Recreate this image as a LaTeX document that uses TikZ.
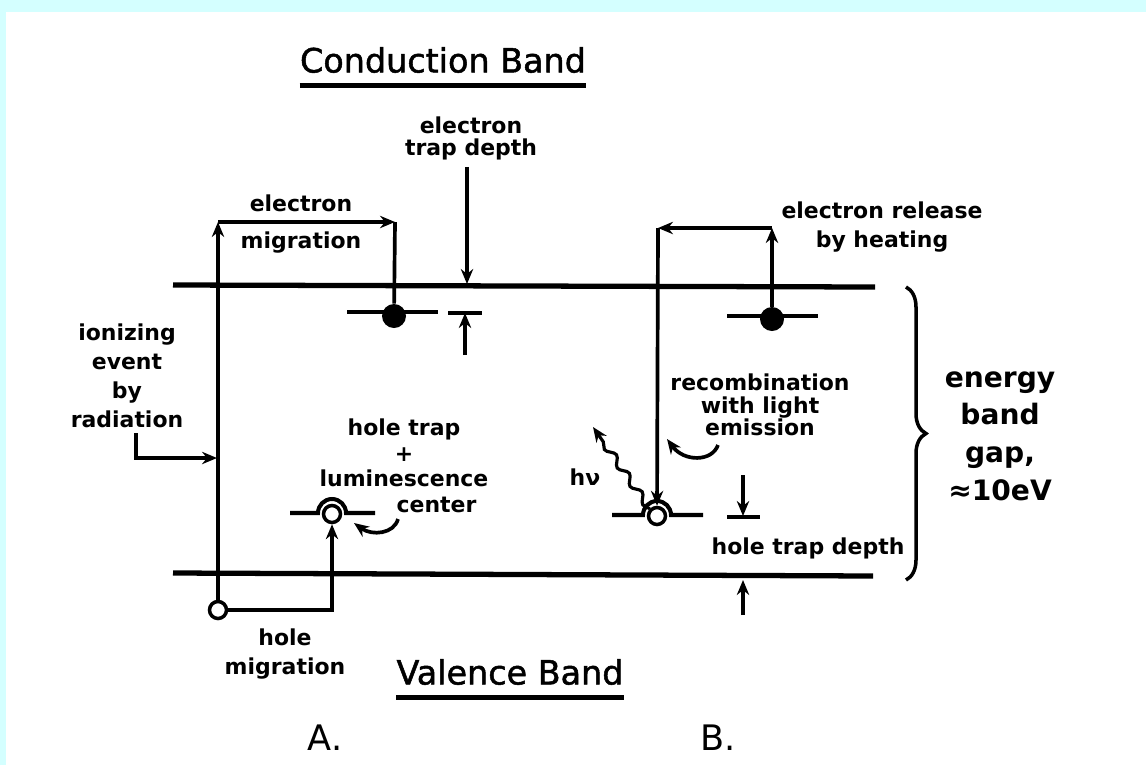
\documentclass[tikz,border=0pt]{standalone}
\usepackage{fontspec}
\setmainfont{DejaVu Sans}
\usepackage{tikz}
\usetikzlibrary{
arrows.meta,
positioning,
decorations.pathreplacing,
decorations.pathmorphing
}
\definecolor{bgcyan}{RGB}{212,255,255}

\begin{document}
\begin{tikzpicture}[
  x=0.02cm, y=-0.02cm,
  >={Stealth[length=8.5pt,width=7pt]},
  lbl/.style={font=\bfseries\fontsize{12.5}{14.5}\selectfont,
              align=center, inner sep=0pt},
  biglbl/.style={font=\bfseries\fontsize{16}{21.5}\selectfont,
                 align=center, inner sep=0pt},
  bandtitle/.style={font=\fontsize{19}{23}\selectfont\addfontfeatures{FakeBold=1.5},
                    inner sep=0pt},
  band/.style={line width=3pt},
  level/.style={line width=2.3pt},
  arrow/.style={->, line width=2.1pt},
  electron/.style={circle, fill, minimum size=0.48cm, inner sep=0pt},
  hole/.style={circle, draw, fill=white, line width=2pt,
               minimum size=0.34cm, inner sep=0pt}
]

%% Frame
\path[use as bounding box] (0,0) rectangle (1146,765);
\fill[bgcyan] (0,0) rectangle (1146,765);
\fill[white] (6,12) rectangle (1146,765);

%% ── BAND TITLES ──────────────────────────────────────────────
\node[bandtitle] (ttlC) at (443,60) {Conduction Band};
\draw[line width=3pt] ([yshift=-7pt]ttlC.south west) -- ([yshift=-7pt]ttlC.south east);
\node[bandtitle] (ttlV) at (510,672) {Valence Band};
\draw[line width=3pt] ([yshift=-7pt]ttlV.south west) -- ([yshift=-7pt]ttlV.south east);

%% Band edges
\draw[band] (173,285) -- (875,287);
\draw[band] (173,573) -- (873,576);

%% ── A: IONIZATION AND TRAPPING ───────────────────────────────
\draw[level] (347,312) -- (438,312);
\node[electron] (eA) at (394,316) {};
\draw[level] (290,513) -- (318,513) arc[start angle=180, end angle=0, radius=0.28cm] -- (375,513);
\node[hole] (hT) at (332,514) {};
\node[hole] (hA) at (218,610) {};

\coordinate (upA) at (218,222);
\coordinate (topA) at (395,222);
\draw[arrow] (hA) -- (upA);
\draw[arrow] (upA) -- (topA);
\draw[line width=2.1pt] (topA) -- (eA);
\draw[arrow] (hA) -| (hT);

\node[lbl] (em) at (301,224) {electron\\[6.5pt]migration};
\node[lbl] (ion) at (127,376) {ionizing\\[2pt]event\\[2pt]by\\[2pt]radiation};
\coordinate (ionfoot) at (136,433);
\coordinate (hitA) at (217,458);
\draw[arrow] (ionfoot) |- (hitA);

\node[lbl] (htl) at (404,466) {hole trap\\+\\luminescence\\\hspace*{1.3cm}center};
\coordinate (ptrAs) at (398,519);
\coordinate (ptrAe) at (354,523);
\draw[arrow] (ptrAs) .. controls (394,534) and (372,536) .. (ptrAe);
\node[lbl] (hm) at (285,654) {hole\\[1.5pt]migration};

%% electron trap depth
\node[lbl] (etd) at (471,138) {electron\\[-2pt]trap depth};
\coordinate (etdTip) at (467,284);
\draw[arrow] ([yshift=-4pt]etd.south -| etdTip) -- (etdTip);
\coordinate (barA) at (465,313);
\draw[level] (448,313) -- (482,313);
\coordinate (barAfoot) at (465,355);
\draw[arrow] (barAfoot) -- (barA);

%% ── B: RELEASE AND RECOMBINATION ─────────────────────────────
\draw[level] (727,316) -- (818,316);
\node[electron] (eB) at (772,319) {};
\draw[level] (612,515) -- (643,515) arc[start angle=180, end angle=0, radius=0.28cm] -- (703,515);
\node[hole] (hB) at (657,516) {};

\coordinate (upB) at (772,228);
\coordinate (topB) at (658,228);
\draw[arrow] (eB) -- (upB);
\draw[arrow] (upB) -- (topB);
\draw[arrow] (topB) -- (hB);
\node[lbl] (rel) at (882,227) {electron release\\[2.5pt]by heating};

\node[lbl] (rec) at (760,405) {recombination\\[-1.7pt]with light\\[-1.7pt]emission};
\coordinate (ptrBs) at (718,445);
\coordinate (ptrBe) at (667,439);
\draw[arrow] (ptrBs) .. controls (712,462) and (684,462) .. (ptrBe);

\coordinate (hvEnd) at (593,427);
\draw[->, line width=1.8pt, decorate,
      decoration={snake, amplitude=0.07cm, segment length=0.45cm, post length=0.3cm}]
  (hB.north west) -- (hvEnd);
\node[lbl] (hv) at (585,477) {hν};

%% hole trap depth
\draw[level] (727,517) -- (760,517);
\coordinate (barB) at (743,516);
\coordinate (barBtop) at (743,475);
\draw[arrow] (barBtop) -- (barB);
\coordinate (vbTip) at (743,580);
\coordinate (vbFoot) at (743,615);
\draw[arrow] (vbFoot) -- (vbTip);
\node[lbl] (htd) at (808,548) {hole trap depth};

%% ── ENERGY GAP ───────────────────────────────────────────────
\coordinate (gapTop) at (906,287);
\coordinate (gapBot) at (906,580);
\draw[line width=2pt, decorate, decoration={brace, amplitude=0.4cm}] (gapTop) -- (gapBot);
\node[biglbl] (gap) at (1000,436) {energy\\band\\gap,\\≈10eV};

%% Panel letters
\node[font=\fontsize{20}{24}\selectfont, inner sep=0pt] (lblA) at (325,738) {A.};
\node[font=\fontsize{20}{24}\selectfont, inner sep=0pt] (lblB) at (718,738) {B.};

\end{tikzpicture}
\end{document}
